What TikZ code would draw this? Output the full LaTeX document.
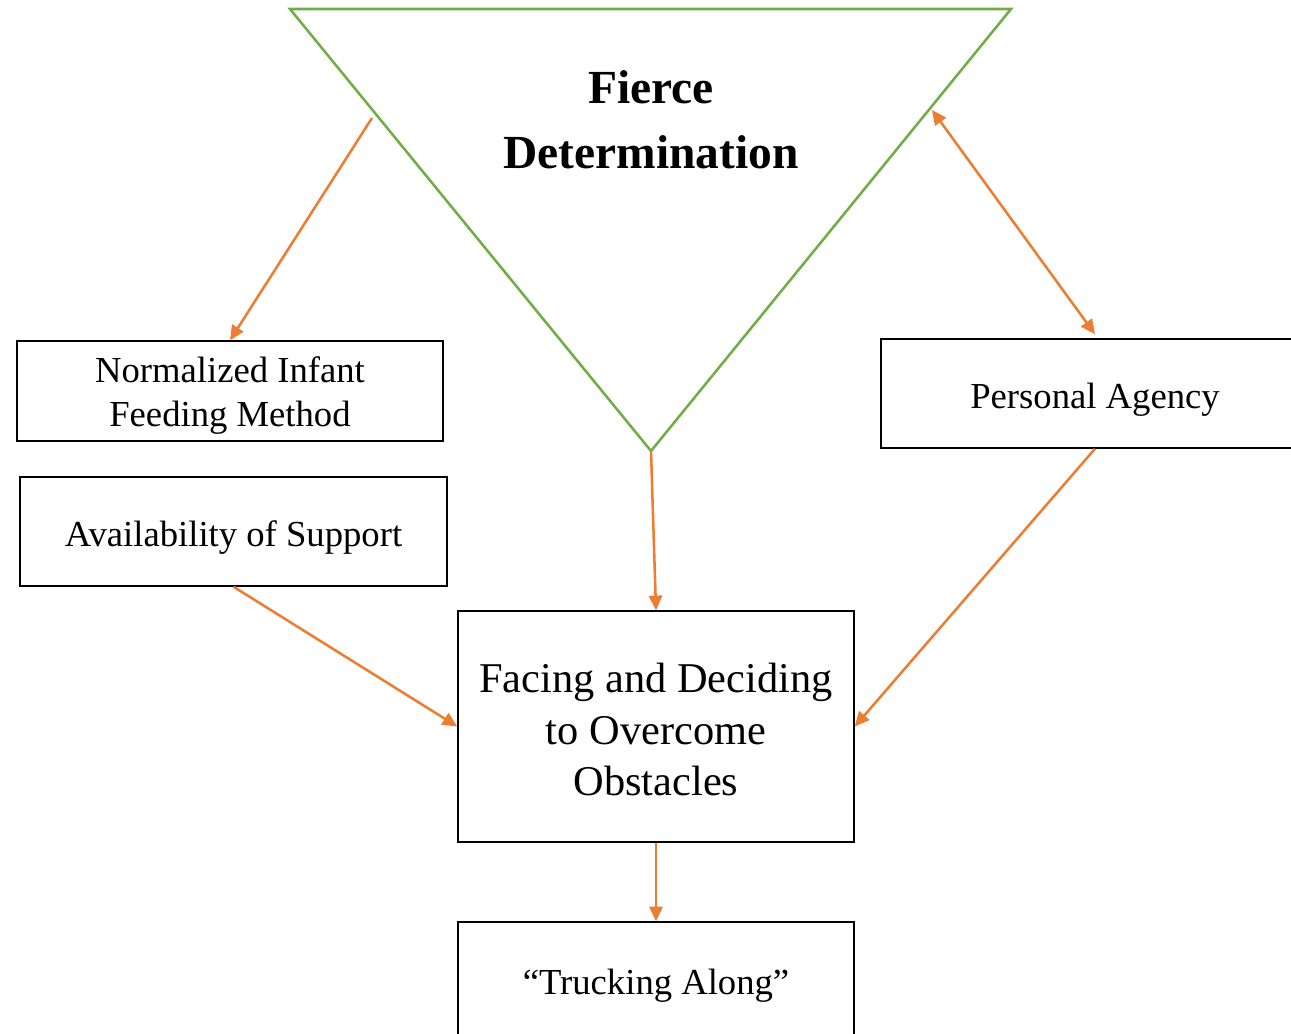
\documentclass[tikz,border=0pt]{standalone}
\usepackage{fontspec}
\setmainfont{Liberation Serif}
\usetikzlibrary{arrows.meta}
\definecolor{tgreen}{RGB}{112,173,71}
\definecolor{torange}{RGB}{237,125,49}
\tikzset{
  box/.style={draw=black, line width=1.1pt, inner sep=0pt},
  txt/.style={inner sep=0pt, align=center, font=\fontsize{27.5pt}{33pt}\selectfont},
  bigtxt/.style={inner sep=0pt, align=center, font=\fontsize{31.8pt}{38.6pt}\selectfont},
  conn/.style={draw=torange, line width=1.9pt, -{Triangle[length=11pt,width=10pt]}},
  dconn/.style={draw=torange, line width=1.9pt, {Triangle[length=11pt,width=10pt]}-{Triangle[length=11pt,width=10pt]}},
}
\begin{document}
\begin{tikzpicture}[x=0.75pt,y=-0.75pt]
\useasboundingbox (0,0) rectangle (1291,1034);
\clip (0,0) rectangle (1291,1034);
% triangle
\coordinate (tl) at (290,9);
\coordinate (tr) at (1011,9);
\coordinate (tb) at (651,451);
\draw[tgreen, line width=1.9pt, line join=miter] (tl) -- (tr) -- (tb) -- cycle;
\node[align=center, font=\fontsize{35.6pt}{48.75pt}\selectfont\bfseries] (fd) at (651,120) {Fierce\\Determination};
% boxes
\node[box, minimum width=319.5pt, minimum height=75pt] (norm) at (230,391) {};
\node[txt] (normT) at ([yshift=-3.75pt]norm.center) {Normalized Infant\\Feeding Method};
\node[box, minimum width=320.25pt, minimum height=81.75pt] (avail) at (233.5,531.5) {};
\node[txt] (availT) at ([yshift=-4.5pt]avail.center) {Availability of Support};
\node[box, minimum width=321pt, minimum height=81.75pt] (pa) at (1095,393.5) {};
\node[txt] (paT) at ([yshift=-4.5pt]pa.center) {Personal Agency};
\node[box, minimum width=297pt, minimum height=173.25pt] (face) at (656,726.5) {};
\node[bigtxt] (faceT) at ([yshift=-2.25pt]face.center) {Facing and Deciding\\to Overcome\\Obstacles};
\node[box, minimum width=297pt, minimum height=92.25pt] (truck) at (656,983.5) {};
\node[txt] (truckT) at ([yshift=-1.5pt]truck.center) {``Trucking Along''};
% connectors
\coordinate (ls) at (372,118);
\coordinate (rs) at (932,110);
\draw[conn] (ls) -- (norm.north);
\draw[dconn] (rs) -- ([yshift=3pt]pa.north);
\draw[conn] (tb) -- (face.north);
\draw[conn] (avail.south) -- (face.west);
\draw[conn] (pa.south) -- (face.east);
\draw[conn] (face.south) -- (truck.north);
\end{tikzpicture}
\end{document}
